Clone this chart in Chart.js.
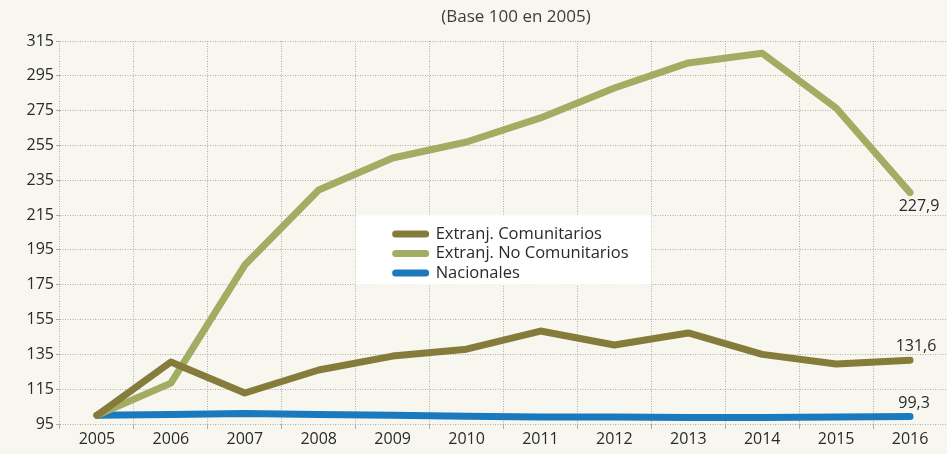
<!DOCTYPE html>
<html lang="es">
<head>
<meta charset="UTF-8">
<title>Base 100 en 2005</title>
<script src="https://cdn.jsdelivr.net/npm/chart.js"></script>
<style>
  html, body { margin: 0; padding: 0; background: #f8f7ef; }
  #wrap { width: 947px; height: 454px; }
</style>
</head>
<body>
<div id="wrap"><canvas id="grafico" width="947" height="454"></canvas></div>
<script>
// datos
const years = ['2005', '2006', '2007', '2008', '2009', '2010', '2011', '2012', '2013', '2014', '2015', '2016'];
const comunitarios = [100, 130.6, 112.8, 126, 134, 138, 148.4, 140.4, 147.3, 135, 129.5, 131.6];
const noComunitarios = [100, 118.5, 186.3, 229.4, 247.8, 257, 270.8, 288, 302.4, 308, 276.5, 227.9];
const nacionales = [100, 100.5, 101, 100.5, 100, 99.5, 99, 99, 98.7, 98.7, 99, 99.3];
const finales = ['131,6', '227,9', '99,3'];

const FONT = '"Open Sans", sans-serif';
const TXT = '#2a2a2a';

// titulo, leyenda dentro del area y etiquetas finales
const extras = {
  id: 'extras',
  afterDatasetsDraw(chart) {
    const { ctx, scales: { x, y } } = chart;
    ctx.save();

    // titulo
    ctx.fillStyle = '#3c3c3c';
    ctx.font = '17px ' + FONT;
    ctx.textAlign = 'center';
    ctx.textBaseline = 'middle';
    ctx.fillText('(Base 100 en 2005)', 516, 17);

    // caja de leyenda
    const bx0 = (x.getPixelForValue(3) + x.getPixelForValue(4)) / 2;
    const bx1 = (x.getPixelForValue(7) + x.getPixelForValue(8)) / 2;
    const by0 = y.getPixelForValue(215);
    const by1 = y.getPixelForValue(175);
    ctx.fillStyle = '#ffffff';
    ctx.fillRect(bx0, by0, bx1 - bx0, by1 - by0);

    ctx.font = '16.5px ' + FONT;
    ctx.textAlign = 'left';
    chart.data.datasets.forEach((ds, i) => {
      const ly = by0 + 19 + i * 19.5;
      ctx.strokeStyle = ds.borderColor;
      ctx.lineWidth = 7;
      ctx.lineCap = 'round';
      ctx.beginPath();
      ctx.moveTo(bx0 + 40, ly);
      ctx.lineTo(bx0 + 70, ly);
      ctx.stroke();
      ctx.fillStyle = TXT;
      ctx.fillText(ds.label, bx0 + 80, ly);
    });

    // valores de 2016
    ctx.font = '16px ' + FONT;
    ctx.textAlign = 'center';
    ctx.fillStyle = TXT;
    const last = years.length - 1;
    const offs = [-14, 14, -13];
    const dx = [6, 9, 4];
    chart.data.datasets.forEach((ds, i) => {
      const px = x.getPixelForValue(last) + dx[i];
      const py = y.getPixelForValue(ds.data[last]) + offs[i];
      ctx.fillText(finales[i], px, py);
    });
    ctx.restore();
  }
};

new Chart(document.getElementById('grafico'), {
  type: 'line',
  data: {
    labels: years,
    datasets: [
      { label: 'Extranj. Comunitarios', data: comunitarios, borderColor: '#857c3b' },
      { label: 'Extranj. No Comunitarios', data: noComunitarios, borderColor: '#a2ac63' },
      { label: 'Nacionales', data: nacionales, borderColor: '#1a7abd' }
    ]
  },
  options: {
    responsive: false,
    animation: false,
    layout: { padding: { top: 41, right: 0, left: 0, bottom: 0 } },
    elements: {
      line: { borderWidth: 7, borderCapStyle: 'round', borderJoinStyle: 'round', tension: 0, fill: false },
      point: { radius: 0, hoverRadius: 0 }
    },
    plugins: {
      legend: { display: false },
      title: { display: false },
      tooltip: { enabled: false }
    },
    scales: {
      x: {
        offset: true,
        grid: { offset: true, color: '#aeaea8', tickLength: 5 },
        border: { display: false, dash: [1, 1.5] },
        ticks: { color: TXT, font: { family: FONT, size: 16 }, padding: 1, maxRotation: 0 },
        afterFit(s) { s.height = 30; }
      },
      y: {
        min: 95,
        max: 315,
        grid: { color: '#aeaea8', tickLength: 4 },
        border: { display: false, dash: [1, 1.5] },
        ticks: { stepSize: 20, color: TXT, font: { family: FONT, size: 16 }, padding: 2 },
        afterFit(s) { s.width = 60; }
      }
    }
  },
  plugins: [extras]
});
</script>
</body>
</html>
